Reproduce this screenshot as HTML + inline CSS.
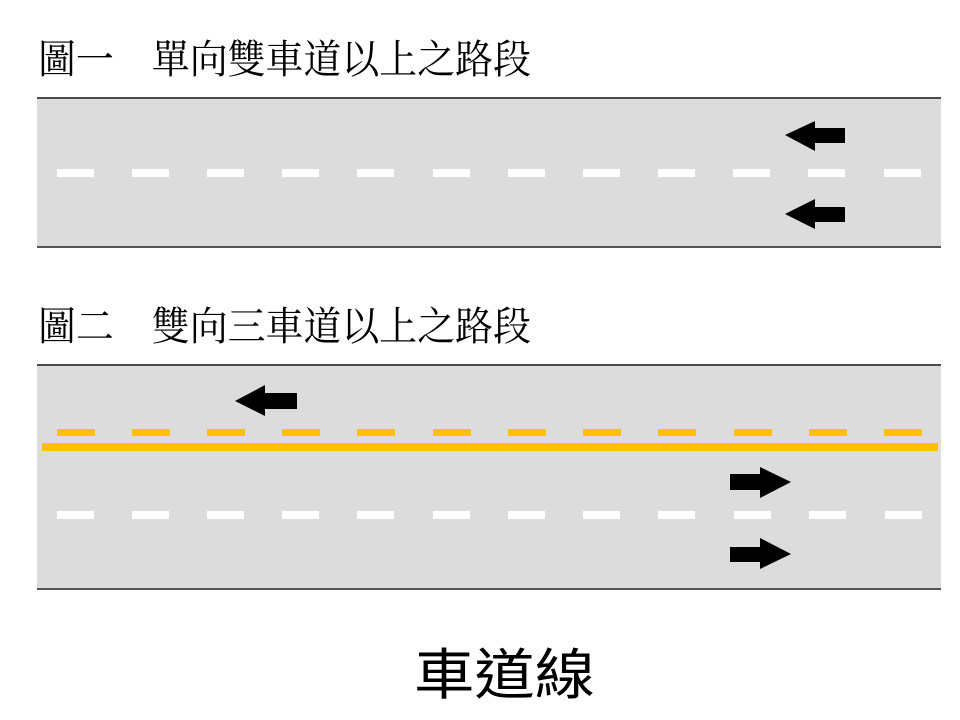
<!DOCTYPE html>
<html>
<head>
<meta charset="utf-8">
<style>
html,body{margin:0;padding:0;background:#fff;}
body{width:960px;height:720px;overflow:hidden;}
svg{display:block;}
.t{font-family:"Liberation Serif","Noto Serif CJK SC","Noto Serif CJK TC",serif;font-size:40px;fill:#000;}
.b{font-family:"Liberation Sans","Noto Sans CJK TC","Noto Sans CJK SC",sans-serif;font-size:60px;fill:#000;}
</style>
</head>
<body>
<svg width="960" height="720" viewBox="0 0 960 720" xmlns="http://www.w3.org/2000/svg">
  <rect x="0" y="0" width="960" height="720" fill="#fff"/>
  <text class="t" x="38" y="73" textLength="493" lengthAdjust="spacingAndGlyphs">圖一　單向雙車道以上之路段</text>

  <!-- Road 1 -->
  <rect x="37" y="97" width="904" height="151" fill="#dcdcdc"/>
  <rect x="37" y="97" width="904" height="2" fill="#4a4a4a"/>
  <rect x="37" y="246" width="904" height="2" fill="#555"/>
  <g fill="#ffffff">
    <rect x="57" y="169" width="37" height="8"/>
    <rect x="132" y="169" width="37" height="8"/>
    <rect x="207" y="169" width="37" height="8"/>
    <rect x="282" y="169" width="37" height="8"/>
    <rect x="357" y="169" width="37" height="8"/>
    <rect x="433" y="169" width="37" height="8"/>
    <rect x="508" y="169" width="37" height="8"/>
    <rect x="583" y="169" width="37" height="8"/>
    <rect x="658" y="169" width="37" height="8"/>
    <rect x="733" y="169" width="37" height="8"/>
    <rect x="808" y="169" width="37" height="8"/>
    <rect x="884" y="169" width="37" height="8"/>
  </g>
  <polygon fill="#000" points="785,135 815,121 815,128 845,128 845,143 815,143 815,151"/>
  <polygon fill="#000" points="785,214 815,199 815,207 845,207 845,222 815,222 815,229"/>

  <text class="t" x="38" y="340" textLength="493" lengthAdjust="spacingAndGlyphs">圖二　雙向三車道以上之路段</text>

  <!-- Road 2 -->
  <rect x="37" y="364" width="904" height="226" fill="#dcdcdc"/>
  <rect x="37" y="364" width="904" height="2" fill="#4a4a4a"/>
  <rect x="37" y="588" width="904" height="2" fill="#555"/>
  <g fill="#ffc000">
    <rect x="57" y="429" width="38" height="7"/>
    <rect x="132" y="429" width="38" height="7"/>
    <rect x="207" y="429" width="38" height="7"/>
    <rect x="282" y="429" width="38" height="7"/>
    <rect x="357" y="429" width="38" height="7"/>
    <rect x="433" y="429" width="38" height="7"/>
    <rect x="508" y="429" width="38" height="7"/>
    <rect x="583" y="429" width="38" height="7"/>
    <rect x="658" y="429" width="38" height="7"/>
    <rect x="734" y="429" width="38" height="7"/>
    <rect x="809" y="429" width="38" height="7"/>
    <rect x="884" y="429" width="38" height="7"/>
    <rect x="42" y="443" width="896" height="8"/>
  </g>
  <g fill="#ffffff">
    <rect x="57" y="511" width="37" height="8"/>
    <rect x="132" y="511" width="37" height="8"/>
    <rect x="207" y="511" width="37" height="8"/>
    <rect x="282" y="511" width="37" height="8"/>
    <rect x="357" y="511" width="37" height="8"/>
    <rect x="433" y="511" width="37" height="8"/>
    <rect x="508" y="511" width="37" height="8"/>
    <rect x="583" y="511" width="37" height="8"/>
    <rect x="658" y="511" width="37" height="8"/>
    <rect x="734" y="511" width="37" height="8"/>
    <rect x="809" y="511" width="37" height="8"/>
    <rect x="885" y="511" width="37" height="8"/>
  </g>
  <polygon fill="#000" points="235,401 265,385 265,393 297,393 297,409 265,409 265,416"/>
  <polygon fill="#000" points="791,482 760,467 760,474 730,474 730,490 760,490 760,498"/>
  <polygon fill="#000" points="791,554 760,538 760,547 730,547 730,562 760,562 760,569"/>

  <g transform="translate(414,694) scale(1,0.92)">
    <text class="b" x="0" y="0" textLength="181" lengthAdjust="spacingAndGlyphs">車道線</text>
  </g>
</svg>
</body>
</html>
